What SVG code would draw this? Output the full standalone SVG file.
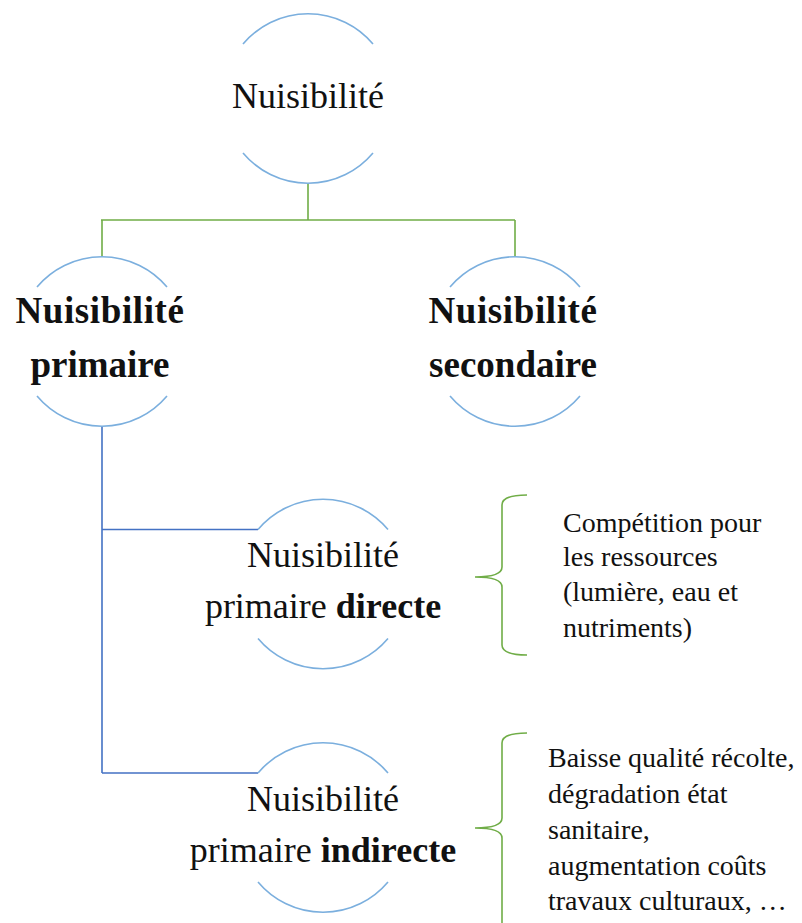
<svg xmlns="http://www.w3.org/2000/svg" width="802" height="923" viewBox="0 0 802 923">
<style>
.arc{fill:none;stroke:#7bafde;stroke-width:1.6}
.green{fill:none;stroke:#70ad47;stroke-width:1.6}
.blue{fill:none;stroke:#4472c4;stroke-width:1.6}
.t{font-size:36px;text-anchor:middle}
.b{font-size:37px;font-weight:bold;text-anchor:middle}
.s{font-size:28px}
</style>
<rect width="802" height="923" fill="#fff"/>
<g id="connectors">
<path class="green" d="M308,184 V220 M101,220 H515 M102,220 V256 M515,220 V256"/>
<path class="blue" d="M102,427 V773 M102,529.5 H258 M102,773 H258"/>
</g>
<g font-family="'Liberation Serif', serif" fill="#111">
<g id="node-nuisibilite">
<path class="arc" d="M243,44 A85,85 0 0 1 373,44 M243,153 A85,85 0 0 0 373,153"/>
<text class="t" x="308" y="108">Nuisibilité</text>
</g>
<g id="node-primaire">
<path class="arc" d="M37,287 A85,85 0 0 1 167,287 M37,396 A85,85 0 0 0 167,396"/>
<text class="b" x="100" y="323" letter-spacing="0.6">Nuisibilité</text>
<text class="b" x="100" y="377">primaire</text>
</g>
<g id="node-secondaire">
<path class="arc" d="M450,287 A85,85 0 0 1 580,287 M450,396 A85,85 0 0 0 580,396"/>
<text class="b" x="513" y="323" letter-spacing="0.6">Nuisibilité</text>
<text class="b" x="513" y="377">secondaire</text>
</g>
<g id="node-directe">
<path class="arc" d="M258,529.5 A85,85 0 0 1 388,529.5 M258,638.5 A85,85 0 0 0 388,638.5"/>
<text class="t" x="323" y="567">Nuisibilité</text>
<text class="t" x="323" y="618">primaire <tspan font-weight="bold">directe</tspan></text>
</g>
<g id="node-indirecte">
<path class="arc" d="M258,773 A85,85 0 0 1 388,773 M258,882 A85,85 0 0 0 388,882"/>
<text class="t" x="323" y="811">Nuisibilité</text>
<text class="t" x="323" y="862">primaire <tspan font-weight="bold">indirecte</tspan></text>
</g>
<g id="note-directe">
<path class="green" d="M527,495 Q502,495 502,505 V567 Q502,577 475,577 Q502,577 502,587 V645 Q502,655 527,655"/>
<text class="s" x="563" y="532">Compétition pour</text>
<text class="s" x="563" y="566">les ressources</text>
<text class="s" x="563" y="601">(lumière, eau et</text>
<text class="s" x="563" y="637">nutriments)</text>
</g>
<g id="note-indirecte">
<path class="green" d="M527,733 Q502,733 502,743 V818 Q502,828 475,828 Q502,828 502,838 V925"/>
<text class="s" x="548" y="767">Baisse qualité récolte,</text>
<text class="s" x="548" y="803">dégradation état</text>
<text class="s" x="548" y="839">sanitaire,</text>
<text class="s" x="548" y="875">augmentation coûts</text>
<text class="s" x="548" y="910">travaux culturaux, …</text>
</g>
</g>
</svg>
